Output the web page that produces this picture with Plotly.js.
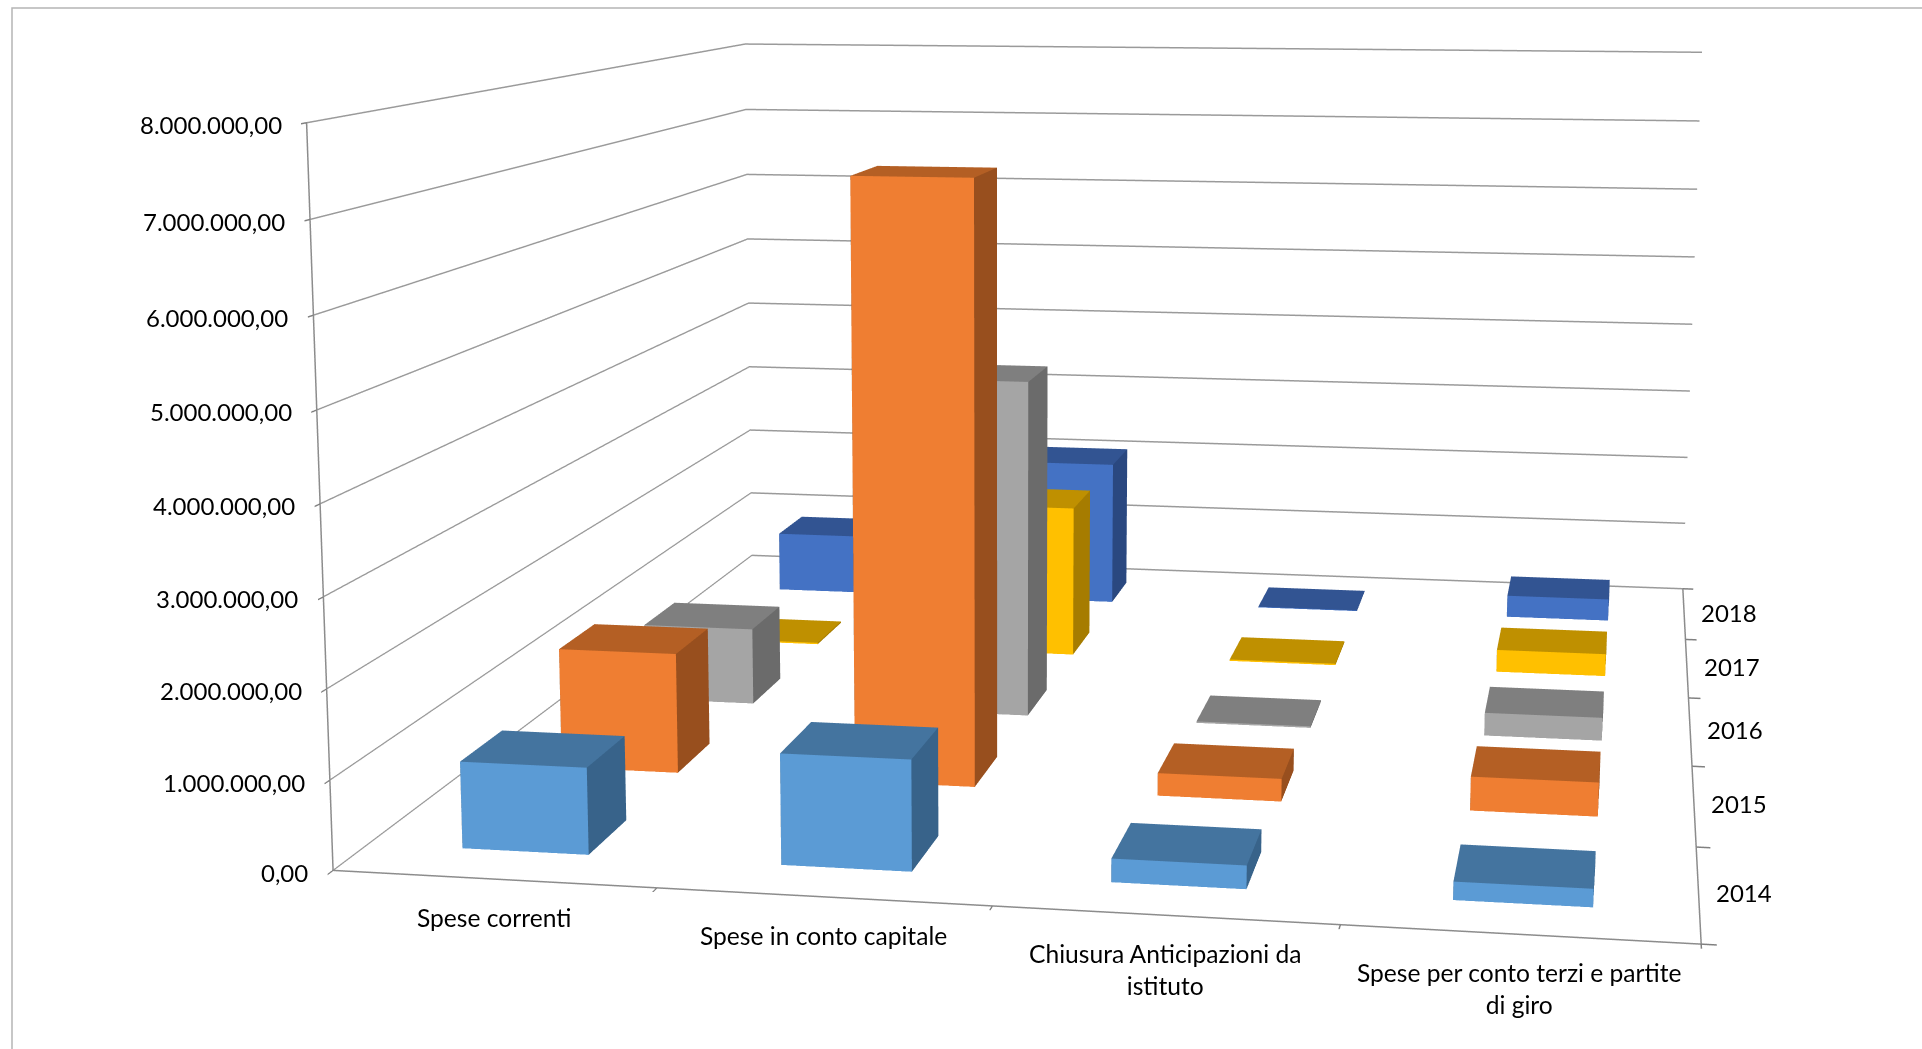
<!DOCTYPE html>
<html><head><meta charset="utf-8">
<script src="https://cdn.plot.ly/plotly-3.0.1.min.js"></script>
<style>html,body{margin:0;padding:0;width:1922px;height:1049px;overflow:hidden;background:#fff}
#chart{position:absolute;left:-50px;top:-927px;width:2100px;height:2858px}</style>
</head><body><div id="chart"></div>
<script>
const categories = ["Spese correnti","Spese in conto capitale","Chiusura Anticipazioni da<br>istituto","Spese per conto terzi e partite<br>di giro"];
const years = ["2014","2015","2016","2017","2018"];
const values2014 = [980000,1240000,260000,200000];
const values2015 = [1450000,7140000,270000,400000];
const values2016 = [980000,4290000,20000,290000];
const values2017 = [20000,2040000,20000,300000];
const values2018 = [850000,2050000,10000,310000];
const zTicks = [0,1000000,2000000,3000000,4000000,5000000,6000000,7000000,8000000];
const zLabels = ["0,00","1.000.000,00","2.000.000,00","3.000.000,00","4.000.000,00","5.000.000,00","6.000.000,00","7.000.000,00","8.000.000,00"];
const frontColors = ["#5B9BD5","#EF7E32","#A5A5A5","#FFC000","#4472C4"];
const topColors = ["#44749F","#B45F24","#7F7F7F","#BF9000","#325492"];
const sideColors = ["#38638A","#984F1E","#6B6B6B","#A67C00","#2A4880"];
const allValues = [values2014,values2015,values2016,values2017,values2018];
const gap = 0.3;
const fontFam = 'Lato, "Open Sans", sans-serif';

const traces = years.map((yr, s) => {
  const X=[],Y=[],Z=[],I=[],J=[],K=[],FC=[];
  allValues[s].forEach((v,c) => {
    const b = X.length;
    const x0=c+gap,x1=c+1-gap,y0=s+gap,y1=s+1-gap;
    [[x0,y0,0],[x1,y0,0],[x1,y1,0],[x0,y1,0],[x0,y0,v],[x1,y0,v],[x1,y1,v],[x0,y1,v]].forEach(p=>{X.push(p[0]);Y.push(p[1]);Z.push(p[2]);});
    const quad=(a,bb,cc,d,col)=>{I.push(b+a,b+a);J.push(b+bb,b+cc);K.push(b+cc,b+d);FC.push(col,col);};
    quad(0,1,5,4,frontColors[s]);
    quad(4,5,6,7,topColors[s]);
    quad(1,2,6,5,sideColors[s]);
    quad(3,2,6,7,sideColors[s]);
    quad(0,3,7,4,sideColors[s]);
  });
  return {type:'mesh3d',name:yr,x:X,y:Y,z:Z,i:I,j:J,k:K,facecolor:FC,flatshading:true,hoverinfo:'skip',showscale:false,
    lighting:{ambient:1,diffuse:0,specular:0,roughness:1,fresnel:0}};
});

const axisBase = {showbackground:false,zeroline:false,showspikes:false,showticklabels:false,title:{text:''},
  showline:true,linecolor:'#8c8c8c',linewidth:3,ticks:'outside',ticklen:10,tickcolor:'#808080',tickwidth:3,showgrid:false,autorange:false};

const ann = [];
const base = {showarrow:false,font:{family:fontFam,size:24,color:'#000'}};
const catFont = {family:fontFam,size:24.6,color:'#000'};
zTicks.forEach((t,i)=>ann.push({...base,x:0,y:0,z:t,text:zLabels[i],xanchor:'right',yanchor:'middle',xshift:-23,yshift:-2}));
categories.forEach((c,i)=>ann.push({...base,font:catFont,x:i+0.5,y:0,z:0,text:c,xanchor:'center',yanchor:'top',yshift:-22,align:'center'}));
years.forEach((y,i)=>ann.push({...base,x:4,y:i+0.5,z:0,text:y,xanchor:'left',yanchor:'middle',xshift:15,yshift:1}));

const layout = {width:2100,height:2858,autosize:false,margin:{l:0,r:0,t:0,b:0,pad:0},paper_bgcolor:'#fff',showlegend:false,
  shapes:[{type:'rect',xref:'paper',yref:'paper',x0:62/2100,x1:1,y0:0,y1:1-(927+8)/2858,line:{color:'#b5b5b5',width:1.5},fillcolor:'rgba(0,0,0,0)',layer:'below'}],
  scene:{domain:{x:[0,1],y:[0,1]},aspectmode:'manual',aspectratio:{x:1,y:1.2435,z:0.5552},
    camera:{projection:{type:'perspective'},up:{x:0.00208,y:0,z:1},eye:{x:0.4390,y:-2.9727,z:0.4473},center:{x:-0.1027,y:-0.0352,z:-0.0893}},
    xaxis:{...axisBase,range:[0,4],tickvals:[0,1,2,3,4]},
    yaxis:{...axisBase,range:[0,5],tickvals:[0,1,2,3,4,5]},
    zaxis:{...axisBase,range:[0,8000000],tickvals:zTicks,showgrid:true,gridcolor:'#9a9a9a',gridwidth:3},
    annotations:ann}};
Plotly.newPlot('chart',traces,layout,{displayModeBar:false});
</script></body></html>
